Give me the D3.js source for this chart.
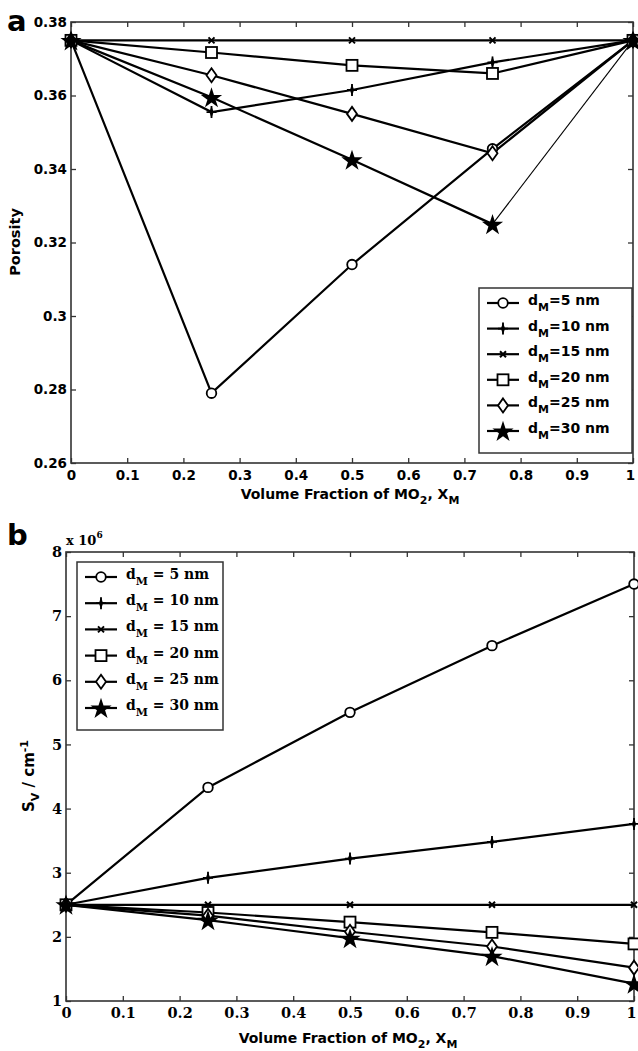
<!DOCTYPE html>
<html>
<head>
<meta charset="utf-8">
<script src="https://cdn.jsdelivr.net/npm/d3@7"></script>
<style>
  body { margin: 0; background: #fff; }
  svg { display: block; }
</style>
</head>
<body>
<svg id="chart" width="638" height="1051"></svg>
<script>
// x values shared by both panels
const xFrac = [0, 0.25, 0.5, 0.75, 1];
const diameters = [5, 10, 15, 20, 25, 30];

// panel a: porosity
const porosity5 = [0.375, 0.279, 0.314, 0.3455, 0.375];
const porosity10 = [0.375, 0.3555, 0.3615, 0.369, 0.375];
const porosity15 = [0.375, 0.375, 0.375, 0.375, 0.375];
const porosity20 = [0.375, 0.3717, 0.3682, 0.366, 0.375];
const porosity25 = [0.375, 0.3655, 0.355, 0.3443, 0.375];
const porosity30 = [0.375, 0.3595, 0.3425, 0.325, 0.375];

// panel b: specific surface (x 10^6)
const surface5 = [2.5, 4.33, 5.5, 6.54, 7.5];
const surface10 = [2.5, 2.92, 3.22, 3.48, 3.76];
const surface15 = [2.5, 2.5, 2.5, 2.5, 2.5];
const surface20 = [2.5, 2.38, 2.23, 2.07, 1.89];
const surface25 = [2.5, 2.33, 2.08, 1.85, 1.52];
const surface30 = [2.5, 2.26, 1.98, 1.70, 1.27];

const xTicks = [0, 0.1, 0.2, 0.3, 0.4, 0.5, 0.6, 0.7, 0.8, 0.9, 1];
const xTickLabels = ['0', '0.1', '0.2', '0.3', '0.4', '0.5', '0.6', '0.7', '0.8', '0.9', '1'];
const porosityTicks = [0.26, 0.28, 0.3, 0.32, 0.34, 0.36, 0.38];
const porosityTickLabels = ['0.26', '0.28', '0.3', '0.32', '0.34', '0.36', '0.38'];
const surfaceTicks = [1, 2, 3, 4, 5, 6, 7, 8];
const surfaceTickLabels = ['1', '2', '3', '4', '5', '6', '7', '8'];

const markers = ['circle', 'plus', 'x', 'square', 'diamond', 'star'];

const svg = d3.select('#chart');
const sans = 'DejaVu Sans, Arial, sans-serif';
const serif = 'DejaVu Serif, Times New Roman, serif';

function drawMarker(g, type, cx, cy) {
  if (type === 'circle') {
    g.append('circle').attr('cx', cx).attr('cy', cy).attr('r', 4.8)
      .attr('fill', '#fff').attr('stroke', '#000').attr('stroke-width', 1.8);
  } else if (type === 'plus') {
    g.append('path')
      .attr('d', d3.symbol(d3.symbolDiamond, 30)())
      .attr('transform', `translate(${cx},${cy}) scale(0.7,1.2)`)
      .attr('fill', '#000');
    g.append('path')
      .attr('d', `M${cx - 5},${cy}H${cx + 5}M${cx},${cy - 6}V${cy + 6}`)
      .attr('stroke', '#000').attr('stroke-width', 1.8);
  } else if (type === 'x') {
    g.append('path')
      .attr('d', `M${cx - 3},${cy - 3}L${cx + 3},${cy + 3}M${cx - 3},${cy + 3}L${cx + 3},${cy - 3}`)
      .attr('stroke', '#000').attr('stroke-width', 2);
  } else if (type === 'square') {
    g.append('rect').attr('x', cx - 5.5).attr('y', cy - 5.5)
      .attr('width', 11).attr('height', 11)
      .attr('fill', '#fff').attr('stroke', '#000').attr('stroke-width', 1.8);
  } else if (type === 'diamond') {
    g.append('path')
      .attr('d', `M${cx},${cy - 7}L${cx + 5},${cy}L${cx},${cy + 7}L${cx - 5},${cy}Z`)
      .attr('fill', '#fff').attr('stroke', '#000').attr('stroke-width', 1.8);
  } else if (type === 'star') {
    g.append('path')
      .attr('d', d3.symbol(d3.symbolStar, 140)())
      .attr('transform', `translate(${cx},${cy + 1})`)
      .attr('fill', '#000');
  }
}

function drawPanel(opt) {
  const g = svg.append('g');
  const x = d3.scaleLinear().domain([0, 1]).range([opt.left, opt.right]);
  const y = d3.scaleLinear().domain(opt.yDomain).range([opt.bottom, opt.top]);

  // ticks on all four sides, pointing inward
  const tickLen = 5;
  g.append('g')
    .attr('class', 'x-bottom')
    .attr('transform', `translate(0,${opt.bottom})`)
    .call(d3.axisBottom(x).tickValues(xTicks).tickSize(-tickLen).tickSizeOuter(0).tickPadding(7)
      .tickFormat((d, i) => xTickLabels[i]));
  g.append('g')
    .attr('transform', `translate(0,${opt.top})`)
    .call(d3.axisTop(x).tickValues(xTicks).tickSize(-tickLen).tickSizeOuter(0).tickFormat(''));
  g.append('g')
    .attr('transform', `translate(${opt.left},0)`)
    .call(d3.axisLeft(y).tickValues(opt.yTicks).tickSize(-tickLen).tickSizeOuter(0).tickPadding(4)
      .tickFormat((d, i) => opt.yTickLabels[i]));
  g.append('g')
    .attr('transform', `translate(${opt.right},0)`)
    .call(d3.axisRight(y).tickValues(opt.yTicks).tickSize(-tickLen).tickSizeOuter(0).tickFormat(''));

  g.selectAll('.domain').remove();
  g.selectAll('.tick line').attr('stroke', '#333').attr('stroke-width', 1.3);
  g.selectAll('.tick text')
    .attr('font-family', opt.tickFont)
    .attr('font-weight', 'bold')
    .attr('font-size', opt.tickSize)
    .attr('fill', '#000');
  // keep the last x label inside the page
  g.selectAll('.x-bottom .tick:last-of-type text').attr('dx', -3);

  g.append('rect')
    .attr('x', opt.left).attr('y', opt.top)
    .attr('width', opt.right - opt.left).attr('height', opt.bottom - opt.top)
    .attr('fill', 'none').attr('stroke', '#333').attr('stroke-width', 1.6);

  // series
  const line = d3.line().x((d, i) => x(xFrac[i])).y((d) => y(d));
  opt.series.forEach((s, k) => {
    if (k === opt.thinLastSeries) {
      // this curve's last segment is drawn with a thinner line
      g.append('path')
        .datum(s.slice(0, 4))
        .attr('d', line)
        .attr('fill', 'none').attr('stroke', '#000').attr('stroke-width', 2.2);
      g.append('path')
        .attr('d', `M${x(xFrac[3])},${y(s[3])}L${x(xFrac[4])},${y(s[4])}`)
        .attr('fill', 'none').attr('stroke', '#000').attr('stroke-width', 1.1);
    } else {
      g.append('path')
        .datum(s)
        .attr('d', line)
        .attr('fill', 'none')
        .attr('stroke', '#000')
        .attr('stroke-width', 2.2);
    }
  });
  opt.series.forEach((s, k) => {
    s.forEach((v, i) => drawMarker(g, markers[k], x(xFrac[i]), y(v)));
  });

  // legend
  const lg = g.append('g');
  lg.append('rect')
    .attr('x', opt.legend.x).attr('y', opt.legend.y)
    .attr('width', opt.legend.w).attr('height', opt.legend.h)
    .attr('fill', '#fff').attr('stroke', '#333').attr('stroke-width', 1.5);
  diameters.forEach((d, k) => {
    const ly = opt.legend.y + opt.legend.first + k * opt.legend.step;
    const lx = opt.legend.x + 8;
    lg.append('line')
      .attr('x1', lx).attr('x2', lx + 32).attr('y1', ly).attr('y2', ly)
      .attr('stroke', '#000').attr('stroke-width', 2.2);
    drawMarker(lg, markers[k], lx + 16, ly);
    const t = lg.append('text')
      .attr('x', lx + 41).attr('y', ly + 2)
      .attr('font-family', opt.legend.font)
      .attr('font-weight', 'bold')
      .attr('font-size', opt.legend.size);
    t.append('tspan').text('d');
    t.append('tspan').attr('dy', 6).attr('font-size', opt.legend.size - 3).text('M');
    t.append('tspan').attr('dy', -6).text(opt.legend.sep + d + ' nm');
  });

  // x label
  const xl = g.append('text')
    .attr('x', (opt.left + opt.right) / 2 - 2)
    .attr('y', opt.xLabelY)
    .attr('text-anchor', 'middle')
    .attr('font-family', sans)
    .attr('font-weight', 'bold')
    .attr('font-size', 14);
  xl.append('tspan').text('Volume Fraction of MO');
  xl.append('tspan').attr('dy', 5).attr('font-size', 11).text('2');
  xl.append('tspan').attr('dy', -5).text(', X');
  xl.append('tspan').attr('dy', 5).attr('font-size', 11).text('M');

  // panel letter
  g.append('text')
    .attr('x', 7).attr('y', opt.letterY)
    .attr('font-family', sans).attr('font-weight', 'bold').attr('font-size', 29)
    .text(opt.letter);

  return { g, x, y };
}

// panel a
const pa = drawPanel({
  left: 71, right: 633, top: 22, bottom: 463,
  yDomain: [0.26, 0.38],
  yTicks: porosityTicks, yTickLabels: porosityTickLabels,
  tickFont: sans, tickSize: 13.5,
  series: [porosity5, porosity10, porosity15, porosity20, porosity25, porosity30],
  thinLastSeries: 5,
  legend: { x: 479, y: 288, w: 153, h: 165, first: 15, step: 25.6, font: sans, size: 14, sep: '=' },
  xLabelY: 499,
  letter: 'a', letterY: 31,
});
pa.g.append('text')
  .attr('transform', 'rotate(-90)')
  .attr('x', -242).attr('y', 20)
  .attr('text-anchor', 'middle')
  .attr('font-family', sans).attr('font-weight', 'bold').attr('font-size', 14.5)
  .text('Porosity');

// panel b
const pb = drawPanel({
  left: 66, right: 634, top: 552, bottom: 1001,
  yDomain: [1, 8],
  yTicks: surfaceTicks, yTickLabels: surfaceTickLabels,
  tickFont: serif, tickSize: 14.5,
  series: [surface5, surface10, surface15, surface20, surface25, surface30],
  thinLastSeries: -1,
  legend: { x: 77, y: 562, w: 146, h: 168, first: 15, step: 26.2, font: serif, size: 14, sep: ' = ' },
  xLabelY: 1043,
  letter: 'b', letterY: 545,
});
const exp = pb.g.append('text')
  .attr('x', 66).attr('y', 545)
  .attr('font-family', serif).attr('font-weight', 'bold').attr('font-size', 13);
exp.append('tspan').text('x 10');
exp.append('tspan').attr('dy', -7).attr('font-size', 9).text('6');

const yl = pb.g.append('text')
  .attr('transform', 'rotate(-90)')
  .attr('x', -776).attr('y', 34)
  .attr('text-anchor', 'middle')
  .attr('font-family', sans).attr('font-weight', 'bold').attr('font-size', 15);
yl.append('tspan').text('S');
yl.append('tspan').attr('dy', 5).attr('font-size', 11).text('V');
yl.append('tspan').attr('dy', -5).text(' / cm');
yl.append('tspan').attr('dy', -6).attr('font-size', 11).text('-1');
</script>
</body>
</html>
